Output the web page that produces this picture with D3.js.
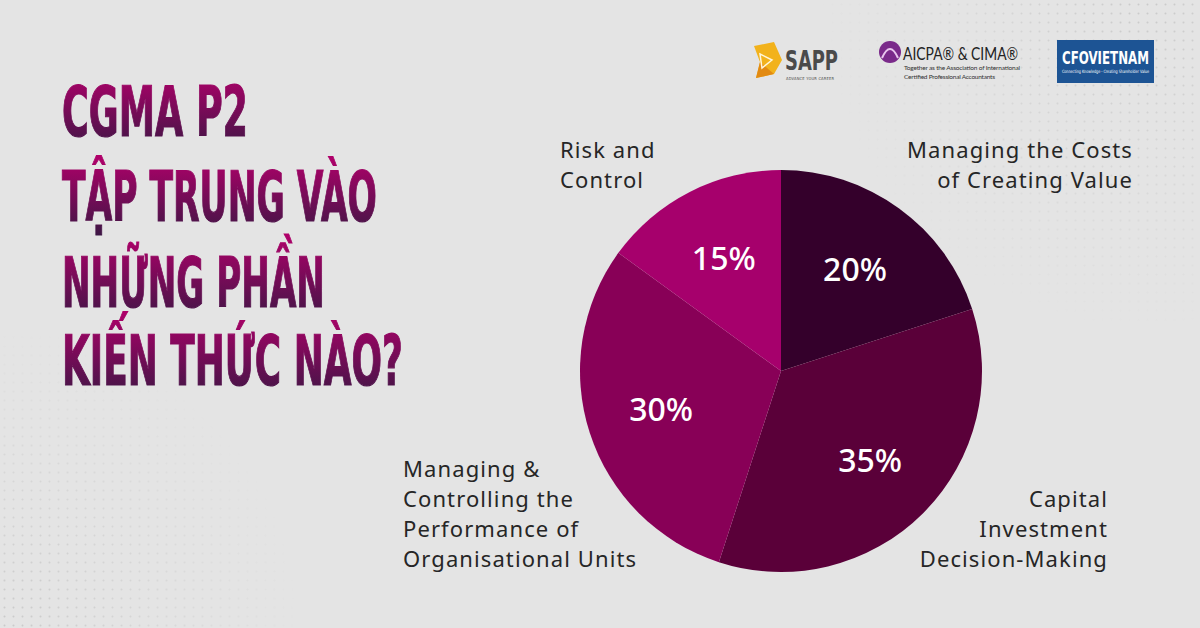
<!DOCTYPE html>
<html>
<head>
<meta charset="utf-8">
<script src="https://cdn.jsdelivr.net/npm/d3@7"></script>
<style>
  html, body { margin: 0; padding: 0; background: #e4e4e4; }
  svg { display: block; }
</style>
</head>
<body>
<div id="chart"></div>
<script>
var svgWidth = 1200;
var svgHeight = 628;

// data
var categories = ["Managing the Costs of Creating Value", "Capital Investment Decision-Making",
                  "Managing & Controlling the Performance of Organisational Units", "Risk and Control"];
var values = [20, 35, 30, 15];
var sliceColors = ["#34002b", "#5a0039", "#880057", "#a6006c"];
var labelLines = [
  ["Managing the Costs", "of Creating Value"],
  ["Capital", "Investment", "Decision-Making"],
  ["Managing &", "Controlling the", "Performance of", "Organisational Units"],
  ["Risk and", "Control"]
];
var titleLines = ["CGMA P2", "TẬP TRUNG VÀO", "NHỮNG PHẦN", "KIẾN THỨC NÀO?"];

// layout
var center = {x: 781, y: 371};
var radius = 201;
var labelRadius = 126;
var labelPos = [
  {x: 1133, y: 158, anchor: "end"},
  {x: 1108, y: 507, anchor: "end"},
  {x: 403, y: 477, anchor: "start"},
  {x: 560, y: 158, anchor: "start"}
];
var titleBase = [136, 221, 307, 385];
var titleWidth = [186, 315, 263, 341];

var svg = d3.select("#chart")
  .append("svg")
  .attr("width", svgWidth)
  .attr("height", svgHeight);

var defs = svg.append("defs");

// dotted texture in the corners
var pattern = defs.append("pattern")
  .attr("id", "dots")
  .attr("width", 9)
  .attr("height", 9)
  .attr("patternUnits", "userSpaceOnUse");
pattern.append("circle")
  .attr("cx", 4.5).attr("cy", 4.5).attr("r", 1)
  .attr("fill", "#c9c9c9");

function fadeGradient(id, cx, cy, r) {
  var g = defs.append("radialGradient")
    .attr("id", id)
    .attr("gradientUnits", "userSpaceOnUse")
    .attr("cx", cx).attr("cy", cy).attr("r", r);
  g.append("stop").attr("offset", "0%").attr("stop-color", "#fff").attr("stop-opacity", 1);
  g.append("stop").attr("offset", "100%").attr("stop-color", "#fff").attr("stop-opacity", 0);
}
fadeGradient("fadeBL", 0, 628, 300);
fadeGradient("fadeTR", 1150, 0, 330);

var mask = defs.append("mask").attr("id", "dotMask");
mask.append("rect").attr("width", svgWidth).attr("height", svgHeight).attr("fill", "url(#fadeBL)");
mask.append("rect").attr("width", svgWidth).attr("height", svgHeight).attr("fill", "url(#fadeTR)");

svg.append("rect")
  .attr("width", svgWidth)
  .attr("height", svgHeight)
  .attr("fill", "#e4e4e4");

svg.append("rect")
  .attr("width", svgWidth)
  .attr("height", svgHeight)
  .attr("fill", "url(#dots)")
  .attr("mask", "url(#dotMask)");

// title with vertical gradient, squeezed horizontally to fit
var titleGrad = defs.append("linearGradient")
  .attr("id", "titleGrad")
  .attr("x1", 0).attr("y1", 0).attr("x2", 0).attr("y2", 1);
titleGrad.append("stop").attr("offset", "0%").attr("stop-color", "#b0006a");
titleGrad.append("stop").attr("offset", "100%").attr("stop-color", "#3b1744");

var titleText = svg.append("g")
  .selectAll("text")
  .data(titleLines)
  .enter()
  .append("text")
  .attr("x", 0)
  .attr("y", 0)
  .attr("font-family", "'Liberation Sans Narrow', 'DejaVu Sans Condensed', sans-serif")
  .attr("font-weight", "bold")
  .attr("font-size", 69)
  .attr("stroke", "url(#titleGrad)")
  .attr("stroke-width", 1.2)
  .attr("fill", "url(#titleGrad)")
  .text(d => d);

titleText.each(function(d, i) {
  var w = this.getComputedTextLength();
  var sx = titleWidth[i] / w;
  d3.select(this).attr("transform", `translate(62, ${titleBase[i]}) scale(${sx}, 1)`);
});

// pie
var pie = d3.pie().sort(null).value(d => d);
var arcs = pie(values);
var arc = d3.arc().innerRadius(0).outerRadius(radius);
var labelArc = d3.arc().innerRadius(labelRadius).outerRadius(labelRadius);

var pieGroup = svg.append("g")
  .attr("transform", `translate(${center.x}, ${center.y})`);

pieGroup.selectAll("path")
  .data(arcs)
  .enter()
  .append("path")
  .attr("d", arc)
  .attr("fill", (d, i) => sliceColors[i]);

pieGroup.selectAll("text")
  .data(arcs)
  .enter()
  .append("text")
  .attr("transform", d => `translate(${labelArc.centroid(d)})`)
  .attr("text-anchor", "middle")
  .attr("dy", "0.36em")
  .attr("font-family", "'Noto Sans', Lato, sans-serif")
  .attr("font-weight", 500)
  .attr("font-size", 32)
  .attr("fill", "#ffffff")
  .text(d => d.data + "%");

// category labels, one text per line
var labels = svg.append("g")
  .selectAll("g")
  .data(labelLines)
  .enter()
  .append("g");

labels.selectAll("text")
  .data((d, i) => d.map((line, j) => ({line: line, pos: labelPos[i], j: j})))
  .enter()
  .append("text")
  .attr("x", d => d.pos.x)
  .attr("y", d => d.pos.y + d.j * 30)
  .attr("text-anchor", d => d.pos.anchor)
  .attr("font-family", "'Noto Sans', Lato, sans-serif")
  .attr("font-size", 22)
  .attr("letter-spacing", 1.1)
  .attr("fill", "#262626")
  .text(d => d.line);

// logos
var logos = svg.append("g");

// SAPP
var sapp = logos.append("g").attr("transform", "translate(752, 40)");
sapp.append("path")
  .attr("d", "M2,6 L22,2 L30,20 L22,34 L4,38 L8,22 Z")
  .attr("fill", "#f2b21b");
sapp.append("path")
  .attr("d", "M8,22 L22,34 L4,38 Z")
  .attr("fill", "#e28a12");
sapp.append("path")
  .attr("d", "M8,14 L20,20 L10,28 Z")
  .attr("fill", "none")
  .attr("stroke", "#fff6d8")
  .attr("stroke-width", 1.5);
sapp.append("text")
  .attr("x", 33).attr("y", 30)
  .attr("font-family", "'Liberation Sans Narrow', 'DejaVu Sans Condensed', sans-serif")
  .attr("font-weight", "bold")
  .attr("font-size", 26)
  .attr("textLength", 53)
  .attr("lengthAdjust", "spacingAndGlyphs")
  .attr("fill", "#4a4a4a")
  .text("SAPP");
sapp.append("text")
  .attr("x", 34).attr("y", 40)
  .attr("font-family", "'DejaVu Sans Condensed', sans-serif")
  .attr("font-size", 4)
  .attr("textLength", 48)
  .attr("fill", "#4a4a4a")
  .text("ADVANCE YOUR CAREER");

// AICPA & CIMA
var aicpa = logos.append("g").attr("transform", "translate(878, 40)");
aicpa.append("circle")
  .attr("cx", 12).attr("cy", 12).attr("r", 11)
  .attr("fill", "#7a2a8a");
aicpa.append("path")
  .attr("d", "M4,18 Q12,0 20,18")
  .attr("fill", "none")
  .attr("stroke", "#e9c6ee")
  .attr("stroke-width", 2);
aicpa.append("text")
  .attr("x", 25).attr("y", 20)
  .attr("font-family", "Lato, 'Noto Sans', sans-serif")
  .attr("font-size", 18)
  .attr("textLength", 115)
  .attr("lengthAdjust", "spacingAndGlyphs")
  .attr("fill", "#222")
  .text("AICPA® & CIMA®");
aicpa.append("text")
  .attr("x", 26).attr("y", 30)
  .attr("font-family", "Lato, 'Noto Sans', sans-serif")
  .attr("font-size", 6.5)
  .attr("textLength", 116)
  .attr("fill", "#333")
  .text("Together as the Association of International");
aicpa.append("text")
  .attr("x", 26).attr("y", 39)
  .attr("font-family", "Lato, 'Noto Sans', sans-serif")
  .attr("font-size", 6.5)
  .attr("textLength", 91)
  .attr("fill", "#333")
  .text("Certified Professional Accountants");

// CFO VIETNAM
var cfo = logos.append("g").attr("transform", "translate(1057, 40)");
cfo.append("rect")
  .attr("width", 97).attr("height", 43)
  .attr("fill", "#1d5494");
cfo.append("text")
  .attr("x", 5).attr("y", 24)
  .attr("font-family", "'Liberation Sans Narrow', 'DejaVu Sans Condensed', sans-serif")
  .attr("font-weight", "bold")
  .attr("font-size", 17)
  .attr("textLength", 87)
  .attr("lengthAdjust", "spacingAndGlyphs")
  .attr("fill", "#ffffff")
  .text("CFOVIETNAM");
cfo.append("text")
  .attr("x", 5).attr("y", 33)
  .attr("font-family", "'DejaVu Sans Condensed', sans-serif")
  .attr("font-size", 4.5)
  .attr("textLength", 87)
  .attr("lengthAdjust", "spacingAndGlyphs")
  .attr("fill", "#ffffff")
  .text("Connecting Knowledge - Creating Shareholder Value");
</script>
</body>
</html>
